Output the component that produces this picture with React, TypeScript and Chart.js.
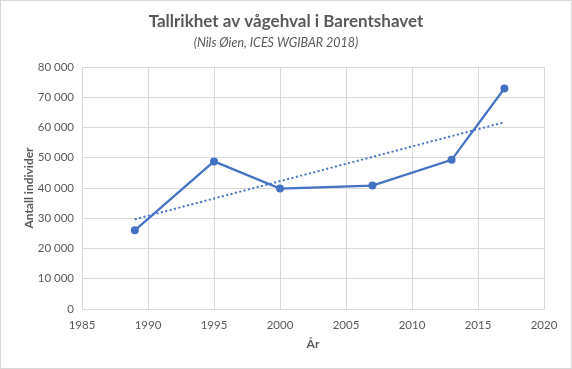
import React, { useEffect, useRef } from "react";
import { Chart, registerables } from "chart.js";

Chart.register(...registerables);

const years = [1989, 1995, 2000, 2007, 2013, 2017];
const counts = [26000, 48800, 39800, 40800, 49300, 72900];
const titleText = "Tallrikhet av vågehval i Barentshavet";
const subtitleText = "(Nils Øien, ICES WGIBAR 2018)";
const xTitle = "År";
const yTitle = "Antall individer";

const W = 572;
const H = 369;
const FONT = "Lato, 'Open Sans', sans-serif";
const GREY = "#595959";
const GRID = "#d9d9d9";
const BLUE = "#4472C4";

function trend(xs: number[], ys: number[]) {
  const n = xs.length;
  const mx = xs.reduce((a, b) => a + b, 0) / n;
  const my = ys.reduce((a, b) => a + b, 0) / n;
  let sxy = 0, sxx = 0;
  for (let i = 0; i < n; i++) {
    sxy += (xs[i] - mx) * (ys[i] - my);
    sxx += (xs[i] - mx) ** 2;
  }
  const b = sxy / sxx;
  const a = my - b * mx;
  const x0 = xs[0], x1 = xs[n - 1];
  return [{ x: x0, y: a + b * x0 }, { x: x1, y: a + b * x1 }];
}

function fmt(v: number) {
  return String(v).replace(/\B(?=(\d{3})+(?!\d))/g, " ");
}

const decor = {
  id: "decor",
  beforeDraw(chart: any) {
    const ctx = chart.ctx;
    ctx.save();
    ctx.fillStyle = "#ffffff";
    ctx.fillRect(0, 0, W, H);
    ctx.strokeStyle = GRID;
    ctx.lineWidth = 1;
    ctx.strokeRect(0.5, 0.5, W - 1, H - 1);
    ctx.restore();
  },
  afterDraw(chart: any) {
    const ctx = chart.ctx;
    ctx.save();
    ctx.fillStyle = GREY;
    ctx.textAlign = "center";
    ctx.textBaseline = "middle";
    ctx.font = `bold 17px ${FONT}`;
    ctx.fillText(titleText, 286, 22);
    ctx.font = `italic 12.5px ${FONT}`;
    ctx.fillText(subtitleText, 276, 43);
    ctx.restore();
  },
};

export default function App() {
  const ref = useRef<HTMLCanvasElement>(null);
  useEffect(() => {
    if (!ref.current) return;
    const pts = years.map((x, i) => ({ x, y: counts[i] }));
    const chart = new Chart(ref.current, {
      type: "line",
      data: {
        datasets: [
          {
            data: pts,
            borderColor: BLUE,
            backgroundColor: BLUE,
            borderWidth: 2.25,
            pointRadius: 4,
            pointHoverRadius: 4,
            pointBorderWidth: 0,
            tension: 0,
            order: 1,
          },
          {
            data: trend(years, counts),
            borderColor: BLUE,
            borderWidth: 2,
            borderDash: [2, 2.5],
            pointRadius: 0,
            tension: 0,
            order: 2,
          },
        ],
      },
      plugins: [decor],
      options: {
        responsive: false,
        animation: false,
        events: [],
        layout: { padding: { top: 67, right: 28, left: 0, bottom: 0 } },
        plugins: {
          legend: { display: false },
          tooltip: { enabled: false },
          title: { display: false },
        },
        scales: {
          x: {
            type: "linear",
            min: 1985,
            max: 2020,
            afterFit: (s: any) => { s.height = H - 309; },
            ticks: {
              stepSize: 5,
              color: GREY,
              font: { family: FONT, size: 11.5 },
              padding: 9,
              callback: (v: any) => String(v),
              maxRotation: 0,
            },
            grid: { color: GRID, drawTicks: false, lineWidth: 1 },
            border: { color: GRID, width: 1 },
            title: {
              display: true,
              text: xTitle,
              color: GREY,
              font: { family: FONT, size: 12, weight: "bold" },
              padding: { top: 0, bottom: 18 },
            },
          },
          y: {
            min: 0,
            max: 80000,
            afterFit: (s: any) => { s.width = 82; },
            ticks: {
              stepSize: 10000,
              color: GREY,
              font: { family: FONT, size: 11.5 },
              padding: 8,
              callback: (v: any) => fmt(Number(v)),
            },
            grid: { color: GRID, drawTicks: false, lineWidth: 1 },
            border: { color: GRID, width: 1 },
            title: {
              display: true,
              text: yTitle,
              color: GREY,
              font: { family: FONT, size: 12, weight: "bold" },
              padding: { top: 22, bottom: 0 },
            },
          },
        },
      },
    } as any);
    return () => chart.destroy();
  }, []);
  return (
    <div style={{ position: "absolute", left: 0, top: 0, width: W, height: H }}>
      <canvas ref={ref} width={W} height={H} style={{ width: W, height: H, display: "block" }} />
    </div>
  );
}
